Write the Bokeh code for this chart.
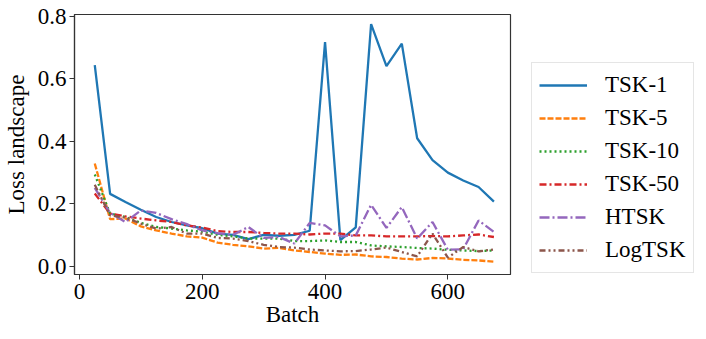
from bokeh.plotting import figure
from bokeh.layouts import row
from bokeh.models import Legend, LegendItem, FixedTicker, PrintfTickFormatter, Range1d
from bokeh.embed import file_html
from bokeh.resources import INLINE

batch = [25, 50, 75, 100, 125, 150, 175, 200, 225, 250, 275, 300, 325, 350,
         375, 400, 425, 450, 475, 500, 525, 550, 575, 600, 625, 650, 675]

tsk1 = [0.643, 0.231, 0.205, 0.180, 0.157, 0.141, 0.130, 0.121, 0.104, 0.100, 0.086, 0.100, 0.097, 0.100,
        0.113, 0.717, 0.083, 0.124, 0.774, 0.640, 0.712, 0.409, 0.339, 0.299, 0.274, 0.253, 0.206]
tsk5 = [0.328, 0.150, 0.152, 0.127, 0.114, 0.104, 0.095, 0.091, 0.075, 0.068, 0.063, 0.056, 0.058, 0.050,
        0.045, 0.040, 0.036, 0.037, 0.031, 0.029, 0.024, 0.021, 0.026, 0.024, 0.020, 0.018, 0.014]
tsk10 = [0.293, 0.168, 0.157, 0.138, 0.125, 0.120, 0.114, 0.110, 0.100, 0.095, 0.088, 0.088, 0.088, 0.080,
         0.080, 0.082, 0.077, 0.077, 0.066, 0.063, 0.061, 0.058, 0.056, 0.052, 0.050, 0.048, 0.050]
tsk50 = [0.232, 0.168, 0.159, 0.152, 0.146, 0.141, 0.130, 0.123, 0.112, 0.109, 0.109, 0.106, 0.104, 0.104,
         0.101, 0.104, 0.104, 0.098, 0.098, 0.095, 0.095, 0.095, 0.096, 0.095, 0.098, 0.101, 0.093]
htsk = [0.250, 0.170, 0.141, 0.178, 0.170, 0.150, 0.134, 0.114, 0.105, 0.100, 0.125, 0.090, 0.093, 0.072,
        0.138, 0.130, 0.095, 0.098, 0.196, 0.122, 0.189, 0.088, 0.141, 0.052, 0.054, 0.146, 0.109]
logtsk = [0.260, 0.162, 0.155, 0.136, 0.120, 0.125, 0.104, 0.104, 0.090, 0.088, 0.080, 0.068, 0.061, 0.059,
          0.053, 0.050, 0.047, 0.048, 0.053, 0.059, 0.045, 0.031, 0.104, 0.027, 0.061, 0.047, 0.053]

labels = ["TSK-1", "TSK-5", "TSK-10", "TSK-50", "HTSK", "LogTSK"]
series = [tsk1, tsk5, tsk10, tsk50, htsk, logtsk]
colors = ["#1f77b4", "#ff7f0e", "#2ca02c", "#d62728", "#9467bd", "#8c564b"]
dashes = ["solid", "6 2", "2 3", "7 3 2 3", "10 3 2 3", "6 3 2 3 2 3"]

x_ticks = [0, 200, 400, 600]
y_ticks = [0.0, 0.2, 0.4, 0.6, 0.8]

FONT = "Liberation Serif"
FS = "23px"
LW = 2.3

p = figure(width=520, height=339, output_backend="svg", toolbar_location=None,
           x_range=Range1d(-8, 702), y_range=Range1d(-0.027, 0.805),
           min_border_left=73, min_border_right=10, min_border_top=14, min_border_bottom=65)
p.background_fill_color = "white"
p.border_fill_color = "white"
p.xgrid.visible = False
p.ygrid.visible = False
p.outline_line_color = "#333333"
p.outline_line_width = 1.2

for ys, c, d in zip(series, colors, dashes):
    p.line(batch, ys, line_color=c, line_width=LW, line_dash=d)

for ax in (p.xaxis[0], p.yaxis[0]):
    ax.axis_line_color = "#333333"
    ax.axis_line_width = 1.2
    ax.major_tick_line_color = "#333333"
    ax.major_tick_out = 5
    ax.major_tick_in = 0
    ax.minor_tick_line_color = None
    ax.major_label_text_font = FONT
    ax.major_label_text_font_size = FS
    ax.major_label_text_color = "black"
    ax.axis_label_text_font = FONT
    ax.axis_label_text_font_size = FS
    ax.axis_label_text_font_style = "normal"
    ax.axis_label_text_color = "black"

p.xaxis.ticker = FixedTicker(ticks=x_ticks)
p.yaxis.ticker = FixedTicker(ticks=y_ticks)
p.yaxis.formatter = PrintfTickFormatter(format="%.1f")
p.xaxis.axis_label = "Batch"
p.yaxis.axis_label = "Loss landscape"
p.xaxis.major_label_standoff = 4
p.xaxis.axis_label_standoff = 0
p.yaxis.major_label_standoff = 3
p.yaxis.axis_label_standoff = 6

# legend panel: a second, axis-less figure whose lines lie outside its view
q = figure(width=186, height=339, output_backend="svg", toolbar_location=None,
           x_range=Range1d(-8, 702), y_range=Range1d(5, 6),
           min_border_left=0, min_border_right=0, min_border_top=0, min_border_bottom=0)
q.axis.visible = False
q.grid.visible = False
q.outline_line_color = None
q.background_fill_color = "white"
q.border_fill_color = "white"

legend_renderers = []
for ys, c, d in zip(series, colors, dashes):
    legend_renderers.append(q.line(batch, ys, line_color=c, line_width=LW, line_dash=d))

items = [LegendItem(label=l, renderers=[r]) for l, r in zip(labels, legend_renderers)]
legend = Legend(items=items, location=(11, 1))
legend.label_text_font = FONT
legend.label_text_font_size = FS
legend.label_text_color = "black"
legend.glyph_width = 48
legend.glyph_height = 30
legend.label_height = 30
legend.label_standoff = 18
legend.spacing = 3
legend.padding = 7
legend.margin = 0
legend.border_line_color = "#cccccc"
legend.border_line_width = 1
legend.background_fill_color = "white"
legend.background_fill_alpha = 1.0
q.add_layout(legend, "center")

layout = row(p, q)
open("out.html", "w").write(file_html(layout, INLINE))
